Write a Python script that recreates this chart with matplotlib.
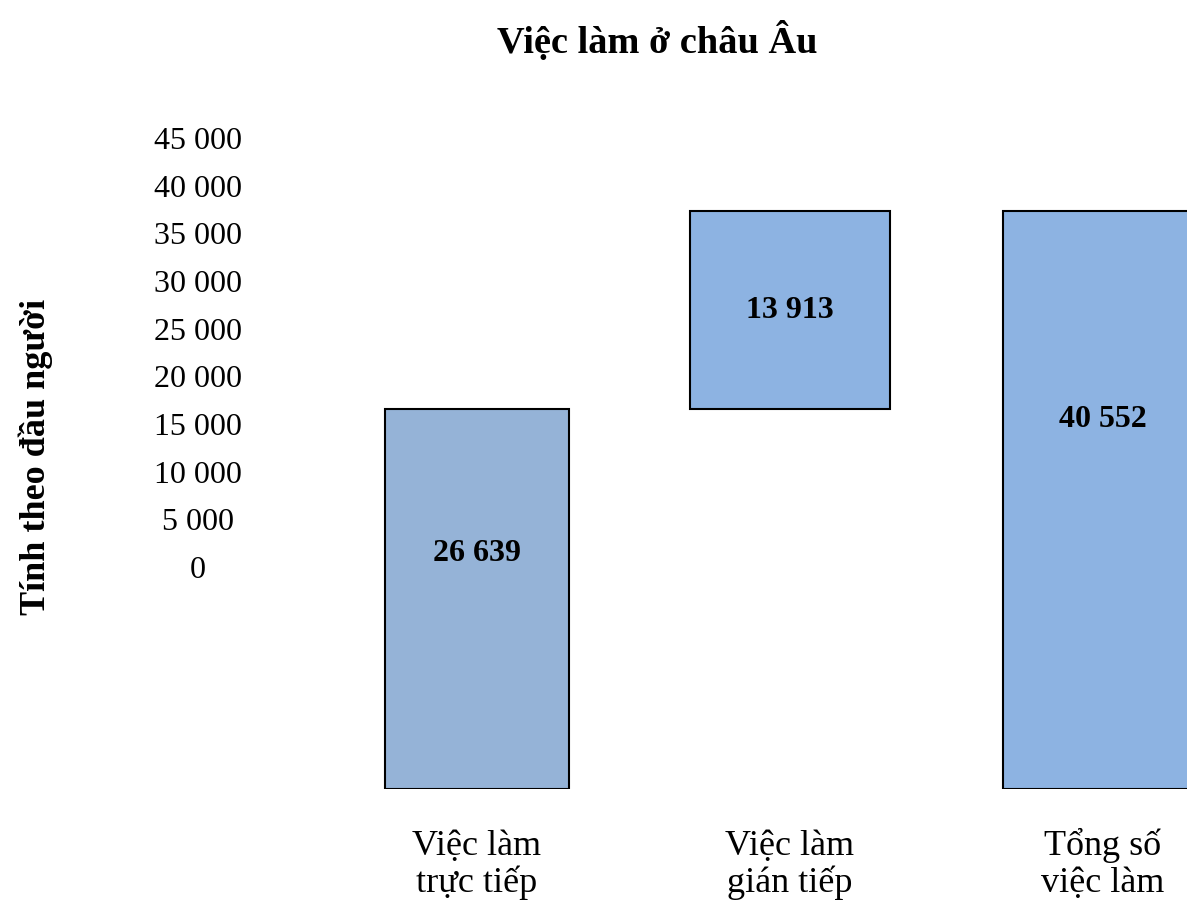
import matplotlib.pyplot as plt

plt.rcParams['font.family'] = ['Liberation Serif', 'DejaVu Serif']

# Data
categories = ["Việc làm\ntrực tiếp", "Việc làm\ngián tiếp", "Tổng số\nviệc làm"]
values = [26639, 13913, 40552]
bottoms = [0, 26639, 0]
value_labels = ["26 639", "13 913", "40 552"]
tick_values = [0, 5000, 10000, 15000, 20000, 25000, 30000, 35000, 40000, 45000]
tick_labels = ["0", "5 000", "10 000", "15 000", "20 000",
               "25 000", "30 000", "35 000", "40 000", "45 000"]

colors = ["#95B3D7", "#8DB3E2", "#8DB3E2"]
widths = [0.585, 0.642, 0.642]
label_frac = [0.62, 0.5, 0.64]

W, H = 1187, 901
fig = plt.figure(figsize=(W / 100, H / 100), dpi=100)

# main axes holding the bars (no visible axis lines)
ax = fig.add_axes([300 / W, (H - 789) / H, (W - 300) / W, 639 / H])
x = list(range(len(categories)))
ax.bar(x, values, bottom=bottoms, width=widths, color=colors,
       edgecolor="black", linewidth=1.5)
ax.set_xlim(-0.5655, 2.2684)
ax.set_ylim(0, 44842)
for s in ax.spines.values():
    s.set_visible(False)
ax.set_yticks([])
ax.set_xticks([])

# two-line category labels, baselines kept level
for xi, cat in zip(x, categories):
    for k, line in enumerate(cat.split("\n")):
        ax.annotate(line, xy=(xi, 0), xycoords=("data", "axes fraction"),
                    xytext=(0, -47.5 - 26.6 * k), textcoords="offset points",
                    ha="center", va="baseline", fontsize=26,
                    annotation_clip=False)

for xi, v, b, lab, f in zip(x, values, bottoms, value_labels, label_frac):
    ax.text(xi, b + v * f, lab, ha="center", va="center",
            fontsize=23, fontweight="bold")

# value scale labels (drawn separately, as in the reference)
ax2 = fig.add_axes([198 / W, (H - 567) / H, 0.001, 429 / H])
ax2.set_ylim(0, 45000)
ax2.set_yticks(tick_values)
ax2.set_yticklabels(tick_labels, fontsize=23)
for lbl in ax2.get_yticklabels():
    lbl.set_ha("center")
ax2.tick_params(axis="y", length=0, pad=0)
ax2.set_xticks([])
for s in ax2.spines.values():
    s.set_visible(False)
ax2.patch.set_alpha(0)

fig.text(657 / W, 1 - 41 / H, "Việc làm ở châu Âu", ha="center", va="center",
         fontsize=27.6, fontweight="bold")
fig.text(36 / W, 1 - 457 / H, "Tính theo đầu người", ha="center", va="center",
         rotation=90, fontsize=26, fontweight="bold")

fig.savefig("out.png", dpi=100)
